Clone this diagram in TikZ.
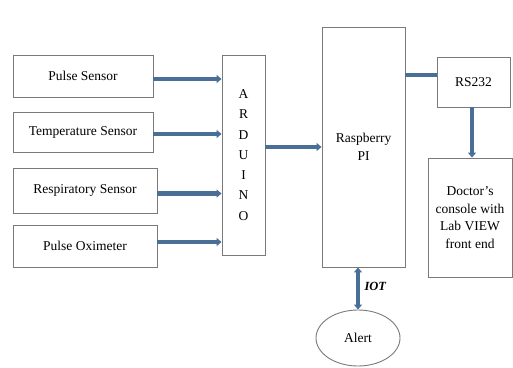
\documentclass[tikz,border=0pt]{standalone}
\usepackage{fontspec}
\setmainfont{Liberation Serif}
\usetikzlibrary{arrows.meta,shapes.geometric}
\definecolor{arr}{HTML}{4A6F96}
\definecolor{edge}{HTML}{7A7A7A}
\begin{document}
\begin{tikzpicture}[x=1pt,y=-1pt,
  box/.style={draw=edge,line width=0.9pt,rectangle,inner sep=0pt,align=center,font=\fontsize{13.5}{17.5}\selectfont},
  conn/.style={draw=arr,line width=4.5pt,-{Triangle[width=8pt,length=5pt]}},
  bconn/.style={draw=arr,line width=4.5pt,{Triangle[width=8pt,length=5pt]}-{Triangle[width=8pt,length=5pt]}},
  plain/.style={draw=arr,line width=4.5pt}]
\useasboundingbox (0,0) rectangle (513,367);
\node[box,minimum width=140pt,minimum height=42pt] (ps) at (83,76) {Pulse Sensor};
\node[box,minimum width=140pt,minimum height=40pt] (ts) at (83,132) {Temperature Sensor};
\node[box,minimum width=144pt,minimum height=45pt] (rs) at (85,190.5) {Respiratory Sensor};
\node[box,minimum width=144pt,minimum height=42pt] (po) at (85,246) {Pulse Oximeter};
\node[box,minimum width=43pt,minimum height=200pt,font=\fontsize{13.5}{20.3}\selectfont] (ard) at (243.5,155) {A\\R\\D\\U\\I\\N\\O};
\node[box,minimum width=83pt,minimum height=240pt] (pi) at (363.5,147) {Raspberry\\PI};
\node[box,minimum width=73pt,minimum height=50pt] (r232) at (473.5,82) {RS232};
\node[box,minimum width=84pt,minimum height=119pt] (doc) at (470,217.5) {Doctor's\\console with\\Lab VIEW\\front end};
\node[ellipse,draw=edge,line width=0.9pt,minimum width=84pt,minimum height=56pt,inner sep=0pt,font=\fontsize{13.5}{17}\selectfont] (alert) at (358,338) {Alert};
\coordinate (c1) at ([yshift=-3pt]ps.east);
\coordinate (c2) at ([yshift=-2pt]ts.east);
\coordinate (c3) at ([yshift=-3pt]rs.east);
\coordinate (c4) at ([yshift=4pt]po.east);
\coordinate (c5) at ([yshift=7pt]r232.west);
\coordinate (c6) at ([xshift=-1.5pt]r232.south);
\draw[conn] (c1) -- (ard.west |- c1);
\draw[conn] (c2) -- (ard.west |- c2);
\draw[conn] (c3) -- (ard.west |- c3);
\draw[conn] (c4) -- (ard.west |- c4);
\draw[conn] (ard.east |- pi.west) -- (pi.west);
\draw[plain] (pi.east |- c5) -- (c5);
\draw[conn] (c6) -- (c6 |- doc.north);
\draw[bconn] (alert.north |- pi.south) -- node[right,font=\fontsize{12.5}{14}\selectfont\bfseries\itshape,xshift=1pt,yshift=2pt] {IOT} (alert.north);
\end{tikzpicture}
\end{document}
